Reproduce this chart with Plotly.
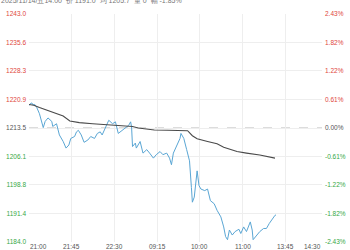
import plotly.graph_objects as go

# --- data ---------------------------------------------------------------
PREV_CLOSE = 1213.5
# trading minute index (0 = 21:00) and last price
price_min = [0, 1, 3, 4, 6, 8, 11, 15, 17, 20, 24, 25, 29, 32, 36, 39, 42, 44, 48, 50,
             52, 55, 58, 62, 65, 69, 72, 75, 77, 81, 84, 88, 91, 94, 98, 101, 105, 107, 108, 109,
             112, 113, 117, 120, 124, 127, 131, 134, 138, 141, 145, 148, 150, 152, 155, 159, 160, 163, 166, 169,
             171, 172, 174, 177, 179, 181, 185, 188, 191, 195, 198, 202, 205, 207, 209, 211, 214, 217, 221, 223,
             226, 229, 233, 235, 236, 240, 243, 247, 250, 253, 255, 259, 260]
price_val = [1219.3, 1219.7, 1220.0, 1219.5, 1219.6, 1218.9, 1217.2, 1213.6, 1215.2, 1216.1,
             1215.2, 1213.9, 1214.6, 1211.7, 1210.0, 1208.3, 1209.1, 1210.8, 1211.3, 1212.5,
             1212.9, 1211.7, 1209.8, 1210.4, 1211.3, 1210.8, 1212.1, 1212.5, 1211.7, 1213.8,
             1215.5, 1214.6, 1215.1, 1212.1, 1212.9, 1213.4, 1214.2, 1215.1, 1213.8, 1208.7,
             1209.6, 1208.3, 1210.0, 1207.0, 1207.9, 1207.0, 1205.7, 1206.6, 1207.4, 1206.6,
             1207.0, 1205.7, 1204.0, 1207.0, 1208.8, 1210.8, 1212.1, 1210.8, 1207.9, 1205.0,
             1198.1, 1194.3, 1195.6, 1202.4, 1198.6, 1197.7, 1197.3, 1197.7, 1194.7, 1193.9,
             1192.2, 1190.5, 1187.9, 1185.4, 1184.6, 1187.1, 1185.8, 1186.7, 1187.3, 1186.2,
             1187.9, 1186.7, 1189.2, 1187.1, 1184.6, 1185.8, 1186.7, 1187.5, 1187.5, 1188.8,
             1189.6, 1190.9, 1191.0]
# average price line
avg_min = [0, 5, 11, 18, 29, 36, 43, 53, 67, 84, 95, 109, 115, 132, 146, 167, 172, 177,
           188, 198, 205, 209, 219, 229, 243, 259]
avg_val = [1219.6, 1219.4, 1218.8, 1218.2, 1217.3, 1216.6, 1215.3, 1214.9, 1214.6, 1214.3,
           1214.2, 1213.9, 1213.5, 1213.0, 1212.9, 1212.8, 1211.5, 1210.7, 1210.0, 1209.4,
           1208.5, 1208.2, 1207.4, 1207.0, 1206.5, 1205.7]

y_ticks = [1243.0, 1235.6, 1228.3, 1220.9, 1213.5, 1206.1, 1198.8, 1191.4, 1184.0]
pct_ticks = ["2.43%", "1.82%", "1.22%", "0.61%", "0.00%", "-0.61%", "-1.22%", "-1.82%", "-2.43%"]
x_tick_min = [0, 45, 90, 135, 180, 225, 270, 315]
x_tick_lab = ["21:00", "21:45", "22:30", "09:15", "10:00", "11:00", "13:45", "14:30"]
header = "2025/11/14/五14:00  价 1191.0  均 1205.7  量 0  幅 -1.85%"

# --- styling ------------------------------------------------------------
RED = "#e0463c"
GREEN = "#36a845"
GRAY = "#555555"
FONT = "Liberation Sans, Arial, sans-serif"
FS = 6.5
X_MAX = 308.5


def colored(vals, texts):
    out = []
    for v, t in zip(vals, texts):
        c = RED if v > PREV_CLOSE else (GREEN if v < PREV_CLOSE else GRAY)
        out.append(f"<span style='color:{c}'>{t}</span>")
    return out


fig = go.Figure()
fig.add_trace(go.Scatter(x=price_min, y=price_val, mode="lines",
                         line=dict(color="#5aa6d4", width=1), hoverinfo="skip"))
fig.add_trace(go.Scatter(x=avg_min, y=avg_val, mode="lines", yaxis="y2",
                         line=dict(color="#4a4a4a", width=1.1), hoverinfo="skip"))

fig.add_shape(type="line", xref="paper", x0=0, x1=1, yref="y", y0=PREV_CLOSE, y1=PREV_CLOSE,
              line=dict(color="#b8b8b8", width=1, dash="dash"), layer="below")

yr = [y_ticks[-1], y_ticks[0]]
fig.update_layout(
    width=350, height=250,
    margin=dict(l=29, r=24, t=13.5, b=4.5),
    paper_bgcolor="white", plot_bgcolor="white",
    showlegend=False,
    font=dict(family=FONT, size=FS, color=GRAY),
    xaxis=dict(range=[0, X_MAX], tickvals=x_tick_min[1:-1], showticklabels=False,
               showgrid=True, gridcolor="#eeeeee", gridwidth=1, zeroline=False,
               showline=False, ticks=""),
    yaxis=dict(range=yr, tickvals=y_ticks, ticktext=colored(y_ticks, [f"{v:.1f}" for v in y_ticks]),
               showgrid=True, gridcolor="#eeeeee", zeroline=False, ticks="",
               tickfont=dict(size=FS, family=FONT), ticklabelstandoff=2),
    yaxis2=dict(range=yr, overlaying="y", side="right", tickvals=y_ticks,
                ticktext=colored(y_ticks, pct_ticks), showgrid=False, zeroline=False,
                ticks="", tickfont=dict(size=FS, family=FONT), ticklabelstandoff=2),
)

for m, lab in zip(x_tick_min, x_tick_lab):
    if m == 0:
        xa, xv = "left", 0
    elif m > X_MAX:
        xa, xv = "right", X_MAX
    else:
        xa, xv = "center", m
    fig.add_annotation(x=xv, xref="x", y=0, yref="paper", yanchor="top", xanchor=xa,
                       text=lab, showarrow=False, font=dict(size=FS, color=GRAY, family=FONT),
                       yshift=0, borderpad=0)

fig.add_annotation(x=-29 / 297, xref="paper", y=1 + 14 / 232, yref="paper",
                   xanchor="left", yanchor="middle", text=header, showarrow=False,
                   font=dict(size=7, color="#777777", family=FONT), borderpad=0)

fig.write_html("out.html")
